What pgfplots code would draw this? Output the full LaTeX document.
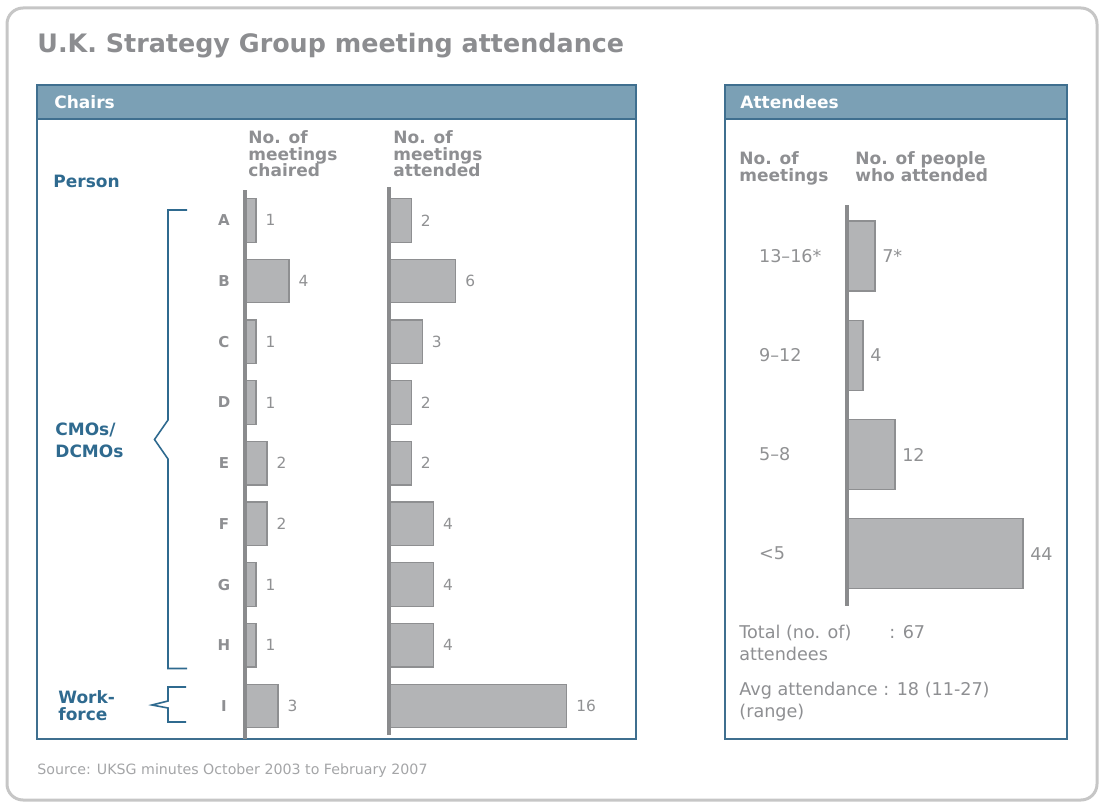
\documentclass[border=0pt]{standalone}
\usepackage{fontspec}
\setmainfont{DejaVu Sans}
\usepackage{pgfplots}
\pgfplotsset{compat=1.18}
\definecolor{titlegray}{HTML}{8C8D90}
\definecolor{headgray}{HTML}{8E8F92}
\definecolor{valgray}{HTML}{909193}
\definecolor{srcgray}{HTML}{A4A5A7}
\definecolor{framegray}{HTML}{C6C6C6}
\definecolor{stripblue}{HTML}{7BA0B5}
\definecolor{edgeblue}{HTML}{3F6F8F}
\definecolor{inkblue}{HTML}{2F6A8F}
\definecolor{barfill}{HTML}{B3B4B6}
\definecolor{baredge}{HTML}{8E8F91}
\definecolor{axisgray}{HTML}{8A8B8D}
\newcommand{\hdfont}{\bfseries\fontsize{8.5}{9}\selectfont}
\newcommand{\txfont}{\fontsize{8.8}{10}\selectfont}
\pgfplotsset{
  rowbars/.style={
    xbar, axis on top, clip=false, enlargelimits=false,
    hide x axis, axis y line*=left,
    axis line style={-, draw=axisgray, line width=1.7pt},
    major tick length=0pt, y dir=reverse, anchor=north west,
    /pgf/number format/assume math mode=true,
    nodes near coords, nodes near coords style={text=valgray, anchor=west},
  },
  graybar/.style={fill=barfill, draw=baredge, line width=0.6pt},
}
\begin{document}
\begin{tikzpicture}
\begin{scope}[x=0.5pt, y=-0.5pt]
\path (0,0) rectangle (1103,802);
\draw[framegray, line width=1.5pt, rounded corners=8pt] (7,8) rectangle (1097,800);
\node[anchor=base west, inner sep=0, text=titlegray, font=\bfseries\fontsize{12.7}{14}\selectfont] at (37,53) {U.K. Strategy Group meeting attendance};

% panels
\draw[edgeblue, line width=0.9pt] (37,85) rectangle (636,739);
\draw[edgeblue, line width=0.9pt, fill=stripblue] (37,85) rectangle (636,119);
\node[anchor=base west, inner sep=0, text=white, font=\hdfont] at (54,109) {Chairs};
\draw[edgeblue, line width=0.9pt] (725,85) rectangle (1067,739);
\draw[edgeblue, line width=0.9pt, fill=stripblue] (725,85) rectangle (1067,119);
\node[anchor=base west, inner sep=0, text=white, font=\hdfont] at (740,109) {Attendees};

% column headers
\begin{scope}[every node/.style={anchor=base west, inner sep=0, text=headgray, font=\hdfont}]
\node at (248,144) {No. of};
\node at (248,160.5) {meetings};
\node at (248,177) {chaired};
\node at (393,144) {No. of};
\node at (393,160.5) {meetings};
\node at (393,177) {attended};
\node at (739,165) {No. of};
\node at (739,181.5) {meetings};
\node at (855,165) {No. of people};
\node at (855,181.5) {who attended};
\end{scope}

% groups
\begin{scope}[every node/.style={anchor=base west, inner sep=0, text=inkblue, font=\hdfont}]
\node at (53,188) {Person};
\node at (55,435) {CMOs/};
\node at (55,457) {DCMOs};
\node at (58,703) {Work-};
\node at (58,720) {force};
\end{scope}
\draw[inkblue, line width=0.8pt] (187,210) -- (168,210) -- (168,420) -- (154.5,439.5) -- (168,459) -- (168,668.5) -- (187,668.5);
\draw[inkblue, line width=0.8pt] (186,687) -- (168,687) -- (168,701) -- (152,705) -- (168,708) -- (168,722) -- (186,722);

% notes
\begin{scope}[every node/.style={anchor=base west, inner sep=0, text=headgray, font=\txfont}]
\node at (739,638) {Total (no. of)};
\node at (889,638) {: 67};
\node at (739,660) {attendees};
\node at (739,695) {Avg attendance : 18 (11-27)};
\node at (739,717) {(range)};
\end{scope}
\node[anchor=base west, inner sep=0, text=srcgray, font=\fontsize{7.1}{8}\selectfont] at (37,774) {Source: UKSG minutes October 2003 to February 2007};
\end{scope}

% meetings chaired (axis line at x=245px, top at 190px)
\begin{axis}[rowbars, at={(122.5pt,-95pt)}, x=5.5pt, y=30.35pt,
  xmin=0, xmax=5, ymin=-0.5, ymax=8.54, bar width=21.8pt,
  ytick={0,...,8}, yticklabels={A,B,C,D,E,F,G,H,I},
  y tick label style={anchor=center, xshift=-10.5pt, text=headgray, font=\bfseries\fontsize{7.5}{9}\selectfont},
  nodes near coords style={xshift=1.2pt, font=\fontsize{7.7}{9}\selectfont}]
\addplot[graybar] coordinates {(1,0) (4,1) (1,2) (1,3) (2,4) (2,5) (1,6) (1,7) (3,8)};
\end{axis}

% meetings attended (axis line at x=389px, top at 187px)
\begin{axis}[rowbars, at={(194.5pt,-93.5pt)}, x=5.55pt, y=30.35pt,
  xmin=0, xmax=17, ymin=-0.55, ymax=8.48, bar width=21.8pt, ytick=\empty,
  nodes near coords style={xshift=1.2pt, font=\fontsize{7.7}{9}\selectfont}]
\addplot[graybar] coordinates {(2,0) (6,1) (3,2) (2,3) (2,4) (4,5) (4,6) (4,7) (16,8)};
\end{axis}

% attendees (axis line at x=847px, top at 205px)
\begin{axis}[rowbars, at={(423.5pt,-102.5pt)}, x=2pt, y=49.6pt,
  xmin=0, xmax=50, ymin=-0.515, ymax=3.525, bar width=35pt,
  ytick={0,...,3}, yticklabels={13--16*, 9--12, 5--8, <5},
  y tick label style={anchor=west, xshift=-47.5pt, text=valgray, font=\txfont},
  point meta=explicit symbolic, nodes near coords style={font=\txfont}]
\addplot[graybar] coordinates {(7,0) [7*] (4,1) [4] (12,2) [12] (44,3) [44]};
\end{axis}
\end{tikzpicture}
\end{document}
